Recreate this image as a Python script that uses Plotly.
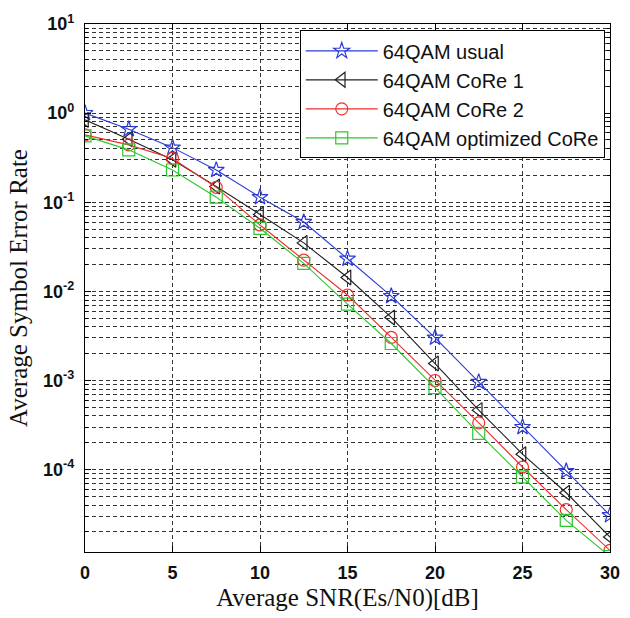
import plotly.graph_objects as go
import math

snr_db = [0, 2.5, 5, 7.5, 10, 12.5, 15, 17.5, 20, 22.5, 25, 27.5, 30]

ser_usual = [1.0, 0.66, 0.41, 0.23, 0.114, 0.0600, 0.0232, 0.00885, 0.00302, 9.6e-4, 3.0e-4, 9.6e-5, 3.07e-5]
ser_core1 = [0.84, 0.51, 0.30, 0.150, 0.073, 0.0350, 0.0143, 0.0051, 0.00155, 4.65e-4, 1.49e-4, 5.5e-5, 1.75e-5]
ser_core2 = [0.57, 0.44, 0.31, 0.147, 0.0556, 0.0224, 0.0091, 0.00304, 1.0e-3, 3.35e-4, 1.07e-4, 3.55e-5, 1.24e-5]
ser_opt = [0.556, 0.387, 0.23, 0.114, 0.051, 0.0206, 0.0072, 0.0026, 8.3e-4, 2.55e-4, 8.3e-5, 2.69e-5, 1.06e-5]

series_names = ["64QAM usual", "64QAM CoRe 1", "64QAM CoRe 2", "64QAM optimized CoRe"]

x_ticks = [0, 5, 10, 15, 20, 25, 30]
y_tick_vals = [1e-4, 1e-3, 1e-2, 1e-1, 1e0, 1e1]
y_tick_text = ["10<sup>-4</sup>", "10<sup>-3</sup>", "10<sup>-2</sup>", "10<sup>-1</sup>",
               "10<sup>0</sup>", "10<sup>1</sup>"]
y_min, y_max = 1.19e-5, 10

minor_vals = [m * 10 ** e for e in range(-5, 1) for m in range(2, 10)]

styles = [
    dict(color="#2a3ad8", symbol="star-open", size=12),
    dict(color="#202020", symbol="triangle-left-open", size=13),
    dict(color="#ee2e2e", symbol="circle-open", size=12),
    dict(color="#2ec52e", symbol="square-open", size=12),
]

fig = go.Figure()
for name, ys, st in zip(series_names, [ser_usual, ser_core1, ser_core2, ser_opt], styles):
    fig.add_trace(go.Scatter(
        x=snr_db, y=ys, name=name, mode="lines+markers",
        line=dict(color=st["color"], width=1.1),
        marker=dict(symbol=st["symbol"], size=st["size"], color=st["color"],
                    line=dict(color=st["color"], width=1.2)),
    ))

grid_color = "#333333"
grid_dash = "4px,3px"

fig.update_layout(
    width=630, height=618,
    margin=dict(l=85, r=10, t=24, b=66),
    paper_bgcolor="white", plot_bgcolor="white",
    showlegend=True,
    legend=dict(
        x=0.99, xanchor="right", y=0.988, yanchor="top",
        bgcolor="white", bordercolor="black", borderwidth=1,
        font=dict(family="Liberation Sans, Arial", size=20, color="#111"),
        itemwidth=72, tracegroupgap=0,
    ),
)

fig.update_xaxes(
    range=[0, 30], tickvals=x_ticks,
    ticks="inside", ticklen=6, tickcolor="black",
    showline=True, linecolor="black", linewidth=1.3, mirror="ticks",
    showgrid=True, gridcolor=grid_color, griddash=grid_dash, gridwidth=1,
    zeroline=False,
    tickfont=dict(family="Liberation Sans, Arial", size=18, color="#111", weight="bold"),
    ticklabelstandoff=4, ticklabeloverflow="allow",
    title=dict(text="Average SNR(Es/N0)[dB]",
               font=dict(family="Liberation Serif, Times New Roman", size=25, color="#111"),
               standoff=6),
)

fig.update_yaxes(
    type="log", range=[math.log10(y_min), math.log10(y_max)],
    tickvals=y_tick_vals, ticktext=y_tick_text,
    ticks="inside", ticklen=6, tickcolor="black",
    showline=True, linecolor="black", linewidth=1.3, mirror="ticks",
    showgrid=True, gridcolor=grid_color, griddash=grid_dash, gridwidth=1,
    zeroline=False,
    minor=dict(tickvals=minor_vals, ticks="inside", ticklen=3, tickcolor="black",
               showgrid=True, gridcolor=grid_color, griddash=grid_dash, gridwidth=1),
    tickfont=dict(family="Liberation Sans, Arial", size=18, color="#111", weight="bold"),
    ticklabelstandoff=6,
    title=dict(text="Average Symbol Error Rate",
               font=dict(family="Liberation Serif, Times New Roman", size=25, color="#111"),
               standoff=8),
)

fig.write_html("out.html")
